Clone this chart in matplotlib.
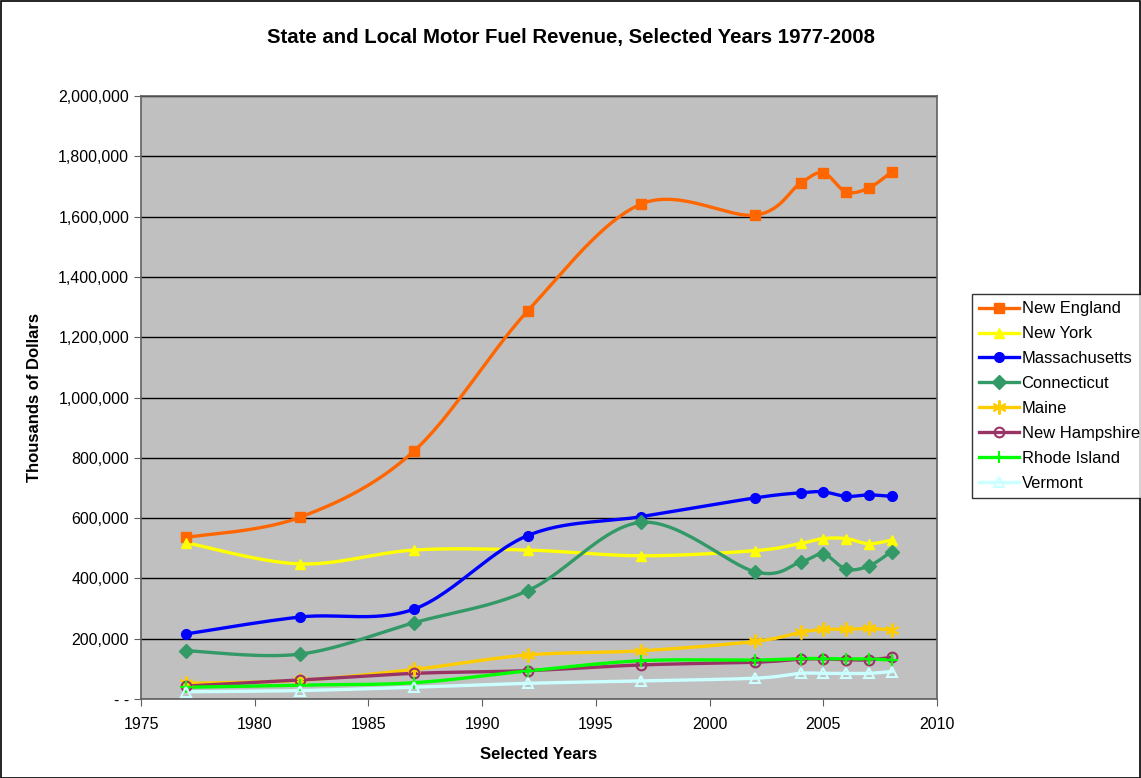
import numpy as np
import matplotlib
matplotlib.use("Agg")
import matplotlib.pyplot as plt
from matplotlib.ticker import FuncFormatter

plt.rcParams["font.family"] = ["Liberation Sans", "DejaVu Sans"]

years = [1977, 1982, 1987, 1992, 1997, 2002, 2004, 2005, 2006, 2007, 2008]

new_england = [536000, 603000, 822000, 1287000, 1642000, 1605000, 1711000, 1745000, 1682000, 1695000, 1748000]
new_york = [518000, 448000, 494000, 494000, 475000, 492000, 516000, 532000, 532000, 515000, 527000]
massachusetts = [216000, 272000, 298000, 542000, 605000, 667000, 684000, 687000, 672000, 677000, 672000]
connecticut = [160000, 149000, 253000, 359000, 586000, 422000, 454000, 480000, 431000, 441000, 489000]
maine = [52000, 62000, 98000, 146000, 160000, 191000, 221000, 231000, 231000, 234000, 229000]
new_hampshire = [43000, 63000, 85000, 94000, 113000, 122000, 132000, 133000, 130000, 130000, 138000]
rhode_island = [39000, 46000, 54000, 93000, 127000, 129000, 134000, 134000, 133000, 133000, 129000]
vermont = [24000, 28000, 39000, 52000, 60000, 69000, 85000, 85000, 85000, 85000, 91000]

series = [
    ("New England", new_england, "#FF6600", "s", "#FF6600"),
    ("New York", new_york, "#FFFF00", "^", "#FFFF00"),
    ("Massachusetts", massachusetts, "#0000FF", "o", "#0000FF"),
    ("Connecticut", connecticut, "#339966", "D", "#339966"),
    ("Maine", maine, "#FFCC00", (6, 2, 0), "#FFCC00"),
    ("New Hampshire", new_hampshire, "#993366", "o", "none"),
    ("Rhode Island", rhode_island, "#00FF00", "+", "#00FF00"),
    ("Vermont", vermont, "#CCFFFF", "^", "none"),
]


def smooth(x, y, ax, n=30):
    # Excel-style smoothed line: cubic Bezier with Catmull-Rom control points,
    # computed in display space so the shape follows the screen aspect
    pts = ax.transData.transform(np.column_stack([x, y]))
    out = []
    m = len(pts)
    t = np.linspace(0, 1, n)[:, None]
    for i in range(m - 1):
        p0 = pts[max(i - 1, 0)]
        p1 = pts[i]
        p2 = pts[i + 1]
        p3 = pts[min(i + 2, m - 1)]
        c1 = p1 + (p2 - p0) / 6
        c2 = p2 - (p3 - p1) / 6
        seg = ((1 - t) ** 3) * p1 + 3 * ((1 - t) ** 2) * t * c1 + 3 * (1 - t) * t ** 2 * c2 + t ** 3 * p2
        out.append(seg if i == 0 else seg[1:])
    out = np.vstack(out)
    d = ax.transData.inverted().transform(out)
    return d[:, 0], d[:, 1]


fig = plt.figure(figsize=(11.41, 7.78), dpi=100)
fig.patch.set_facecolor("white")
ax = fig.add_axes([141 / 1141, 1 - 699 / 778, (937 - 141) / 1141, (699 - 96) / 778])
ax.set_facecolor("#C0C0C0")
ax.set_xlim(1975, 2010)
ax.set_ylim(0, 2000000)
ax.set_yticks(np.arange(0, 2000001, 200000))
ax.set_xticks(np.arange(1975, 2011, 5))
ax.yaxis.set_major_formatter(FuncFormatter(lambda v, p: "- -" if v == 0 else f"{int(v):,}"))
ax.grid(axis="y", color="black", linewidth=1)
ax.set_axisbelow(True)
for s in ax.spines.values():
    s.set_color("#606060")
    s.set_linewidth(1.2)
ax.tick_params(axis="both", labelsize=11.5, direction="out", length=5, color="#606060")
ax.tick_params(axis="x", pad=8)

fig.canvas.draw()
for name, vals, col, mk, mfc in series:
    sx, sy = smooth(years, vals, ax)
    ax.plot(sx, sy, color=col, linewidth=2.4, zorder=3)
    ms = 10 if isinstance(mk, tuple) else (9 if mk == "+" else 7)
    mew = 1.5 if mfc == "none" or mk == "+" or isinstance(mk, tuple) else 1
    ax.plot(years, vals, linestyle="none", marker=mk, markersize=ms, color=col,
            markerfacecolor=mfc, markeredgecolor=col, markeredgewidth=mew, zorder=4)
    ax.plot([], [], color=col, linewidth=2.4, marker=mk, markersize=ms,
            markerfacecolor=mfc, markeredgecolor=col, markeredgewidth=mew, label=name)

ax.set_xlabel("Selected Years", fontsize=12, fontweight="bold", labelpad=11)
ax.set_ylabel("Thousands of Dollars", fontsize=12, fontweight="bold", labelpad=12)
fig.text(0.5, 1 - 38 / 778, "State and Local Motor Fuel Revenue, Selected Years 1977-2008",
         ha="center", va="center", fontsize=14.7, fontweight="bold")

leg = fig.legend(loc="upper left", bbox_to_anchor=(972 / 1141, 1 - 294 / 778),
                 fontsize=11.9, frameon=True, fancybox=False, edgecolor="black",
                 borderpad=0.45, labelspacing=0.6, handlelength=2.4, handletextpad=0.15,
                 borderaxespad=0)
leg.get_frame().set_linewidth(1)

border = plt.Rectangle((0.5 / 1141, 0.5 / 778), 1 - 1.5 / 1141, 1 - 1.5 / 778,
                       transform=fig.transFigure, fill=False, edgecolor="black", linewidth=1.2)
fig.patches.append(border)

fig.savefig("out.png", dpi=100)
